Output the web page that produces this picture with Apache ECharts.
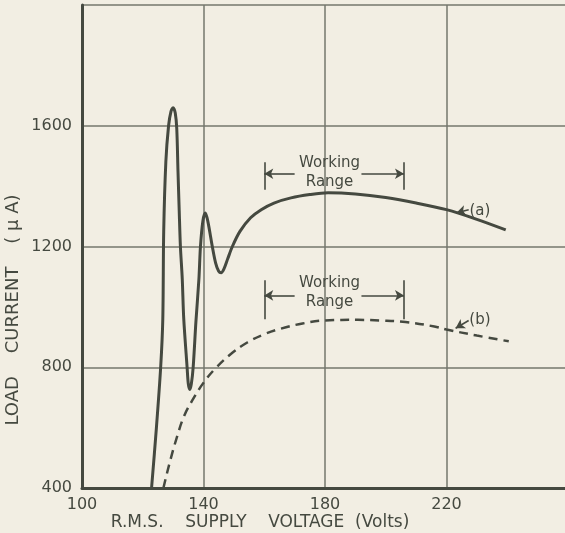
<!DOCTYPE html>
<html>
<head>
<meta charset="utf-8">
<script src="https://cdn.jsdelivr.net/npm/echarts@6/dist/echarts.min.js"></script>
<style>
    html, body { margin: 0; padding: 0; background: #f2eee3; }
    #chart { width: 565px; height: 533px; }
</style>
</head>
<body>
<div id="chart"></div>
<script>
// curve (a): solid
const voltageA = [122.9, 124.5, 125.9, 126.6, 126.9, 127.6, 128.5, 129.3, 130.0, 130.7, 131.2, 131.6, 132.0, 132.4, 133.0, 133.5, 134.6, 135.0, 135.5, 136.0, 136.6, 137.5, 138.5, 139.0, 139.8, 140.6, 141.4, 142.9, 144.0, 145.0, 145.8, 146.7, 148.0, 149.5, 152.0, 155.5, 159.0, 163.2, 168.8, 175.0, 181.0, 190.0, 200.0, 210.0, 220.0, 230.0, 239.5]
const currentA = [400, 600, 800, 960, 1250, 1480, 1600, 1648, 1660, 1642, 1590, 1450, 1320, 1200, 1094, 960, 800, 745, 726, 745, 800, 950, 1094, 1200, 1285, 1311, 1285, 1200, 1145, 1118, 1113, 1125, 1160, 1200, 1250, 1295, 1322, 1344, 1361, 1372, 1378, 1374, 1362, 1344, 1322, 1290, 1255]

// curve (b): dashed
const voltageB = [126.8, 129.1, 131.3, 133.5, 136.3, 140.1, 144.0, 148.9, 154.4, 159.9, 165.5, 172.6, 180.0, 190.8, 198.0, 206.5, 216.0, 220.0, 230.0, 240.5]
const currentB = [400, 493, 570, 636, 690, 750, 797, 843, 882, 909, 928, 945, 955, 957, 955, 950, 935, 925, 905, 886]

// axes
const xTicks = [100, 140, 180, 220]
const yTicks = [400, 800, 1200, 1600]

// working range (volts) and annotation anchors
const workingRange = [160, 206]
const rangeTextV = 181.5
const rangeA = { low: 1388, high: 1479, arrow: 1441, text: 1446 }
const rangeB = { low: 959, high: 1088, arrow: 1038, text: 1048 }
const labelA = { text: [231, 1316], from: [227.3, 1322], tip: [223.3, 1312] }
const labelB = { text: [231, 955], from: [227.3, 955], tip: [223.0, 929] }

const ink = '#454940'
const gridInk = '#74776c'
const font = 'DejaVu Sans'

function pairs(xs, ys) {
    return xs.map((x, i) => [x, ys[i]])
}

// bracket + arrows + leader line for one curve
function annotationLines(range, label) {
    let bar = (v, a, b) => [
        { coord: [v, a], symbol: 'none' },
        { coord: [v, b], symbol: 'none' }
    ]
    return [
        bar(workingRange[0], range.low, range.high),
        bar(workingRange[1], range.low, range.high),
        [{ coord: [170, range.arrow] }, { coord: [workingRange[0], range.arrow] }],
        [{ coord: [192, range.arrow] }, { coord: [workingRange[1], range.arrow] }],
        [{ coord: label.from }, { coord: label.tip }]
    ]
}

function annotationTexts(range, label, name) {
    return [
        { name: 'Working\nRange', coord: [rangeTextV, range.text] },
        { name: name, coord: label.text }
    ]
}

function markLineOpt(range, label) {
    return {
        silent: true,
        animation: false,
        symbol: ['none', 'arrow'],
        symbolSize: [8, 9],
        label: { show: false },
        lineStyle: { type: 'solid', color: ink, width: 1.6 },
        data: annotationLines(range, label)
    }
}

function markPointOpt(range, label, name) {
    return {
        silent: true,
        animation: false,
        symbol: 'rect',
        symbolSize: 1,
        itemStyle: { color: 'transparent' },
        label: {
            show: true,
            position: 'inside',
            formatter: '{b}',
            color: ink,
            fontFamily: font,
            fontSize: 15,
            lineHeight: 19
        },
        data: annotationTexts(range, label, name)
    }
}

let chart = echarts.init(document.getElementById('chart'))

let option = {
    backgroundColor: '#f2eee3',
    animation: false,
    grid: { left: 82, right: -3, top: 5, bottom: 45, outerBoundsMode: 'none' },
    xAxis: {
        type: 'value',
        min: 100,
        max: 260,
        interval: 40,
        name: 'R.M.S.    SUPPLY    VOLTAGE  (Volts)',
        nameLocation: 'middle',
        nameGap: 26,
        nameMoveOverlap: false,
        nameTextStyle: { color: ink, fontFamily: font, fontSize: 17, padding: [0, 130, 0, 0] },
        axisLine: { show: true, lineStyle: { color: ink, width: 3 } },
        axisTick: { show: false },
        axisLabel: {
            color: ink, fontFamily: font, fontSize: 16, margin: 9,
            formatter: (v) => xTicks.includes(v) ? String(v) : ''
        },
        splitLine: { show: true, lineStyle: { color: gridInk, width: 1.5 } }
    },
    yAxis: {
        type: 'value',
        min: 400,
        max: 2000,
        interval: 400,
        name: 'LOAD    CURRENT    ( µ A)',
        nameLocation: 'middle',
        nameGap: 60,
        nameMoveOverlap: false,
        nameTextStyle: { color: ink, fontFamily: font, fontSize: 18, padding: [0, 127, 0, 0] },
        axisLine: { show: true, lineStyle: { color: ink, width: 3 } },
        axisTick: { show: false },
        axisLabel: {
            color: ink, fontFamily: font, fontSize: 16, margin: 10,
            formatter: (v) => yTicks.includes(v) ? String(v) : ''
        },
        splitLine: { show: true, lineStyle: { color: gridInk, width: 1.5 } }
    },
    series: [
        {
            name: 'a',
            type: 'line',
            data: pairs(voltageA, currentA),
            smooth: 0.3,
            showSymbol: false,
            lineStyle: { color: ink, width: 3 },
            markLine: markLineOpt(rangeA, labelA),
            markPoint: markPointOpt(rangeA, labelA, '(a)')
        },
        {
            name: 'b',
            type: 'line',
            data: pairs(voltageB, currentB),
            smooth: 0.4,
            showSymbol: false,
            lineStyle: { color: ink, width: 2.5, type: [9, 6] },
            markLine: markLineOpt(rangeB, labelB),
            markPoint: markPointOpt(rangeB, labelB, '(b)')
        }
    ]
}

chart.setOption(option)
</script>
</body>
</html>
